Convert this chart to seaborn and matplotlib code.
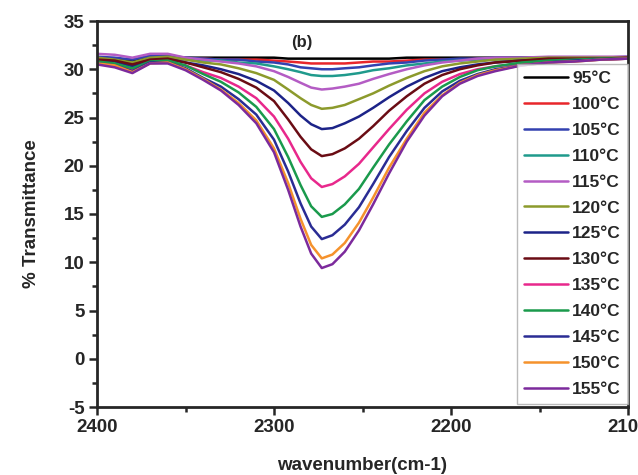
import numpy as np
import pandas as pd
import matplotlib
matplotlib.use("Agg")
import matplotlib.pyplot as plt
import seaborn as sns

wavenumber = [2400, 2390, 2380, 2370, 2360, 2350, 2340, 2330, 2320, 2310, 2300,
              2292, 2285, 2279, 2273, 2267, 2260, 2252, 2244, 2235, 2225, 2215,
              2205, 2195, 2185, 2175, 2160, 2145, 2130, 2115, 2100]

temperatures = ["95", "100", "105", "110", "115", "120", "125", "130",
                "135", "140", "145", "150", "155"]

t95 = [31.2, 31.1, 30.9, 31.3, 31.3,
       31.2, 31.2, 31.2, 31.2, 31.2, 31.2, 31.1, 31.1, 31.1, 31.1, 31.1, 31.1, 31.1,
       31.1, 31.1, 31.2, 31.2, 31.2, 31.2, 31.2, 31.2, 31.2, 31.2, 31.2, 31.2, 31.2]
t100 = [31.0, 30.9, 30.6, 31.1, 31.2,
        31.1, 31.1, 31.0, 31.0, 31.0, 30.9, 30.8, 30.7, 30.6, 30.6, 30.6, 30.6, 30.7,
        30.8, 30.8, 30.9, 31.0, 31.0, 31.0, 31.1, 31.1, 31.1, 31.1, 31.1, 31.2, 31.2]
t105 = [31.3, 31.2, 31.0, 31.4, 31.4,
        31.2, 31.1, 31.0, 31.0, 30.8, 30.7, 30.5, 30.2, 30.1, 30.0, 30.0, 30.1, 30.2,
        30.4, 30.6, 30.7, 30.9, 31.0, 31.1, 31.1, 31.2, 31.2, 31.2, 31.2, 31.2, 31.3]
t110 = [31.1, 30.9, 30.4, 31.0, 31.1,
        31.0, 30.9, 30.9, 30.7, 30.6, 30.3, 30.0, 29.7, 29.4, 29.3, 29.3, 29.4, 29.6,
        29.9, 30.1, 30.4, 30.6, 30.8, 30.9, 31.0, 31.0, 31.1, 31.1, 31.1, 31.1, 31.2]
t115 = [31.6, 31.5, 31.2, 31.6, 31.6,
        31.2, 31.0, 30.8, 30.6, 30.3, 29.8, 29.2, 28.6, 28.1, 27.9, 28.0, 28.2, 28.5,
        29.0, 29.5, 30.0, 30.4, 30.7, 30.9, 31.1, 31.2, 31.2, 31.3, 31.3, 31.3, 31.3]
t120 = [31.2, 31.0, 30.7, 31.2, 31.3,
        31.0, 30.7, 30.5, 30.1, 29.6, 28.9, 27.9, 27.0, 26.3, 25.9, 26.0, 26.3, 26.9,
        27.5, 28.3, 29.1, 29.8, 30.3, 30.6, 30.8, 31.0, 31.1, 31.2, 31.2, 31.2, 31.2]
t125 = [30.9, 30.8, 30.3, 30.9, 31.0,
        30.7, 30.4, 30.0, 29.5, 28.8, 27.8, 26.5, 25.2, 24.3, 23.8, 23.9, 24.4, 25.1,
        26.0, 27.1, 28.2, 29.1, 29.8, 30.2, 30.5, 30.7, 30.9, 31.0, 31.0, 31.1, 31.1]
t130 = [31.0, 30.9, 30.5, 31.0, 31.1,
        30.7, 30.2, 29.7, 29.0, 28.1, 26.7, 24.8, 23.0, 21.7, 21.0, 21.2, 21.8, 22.8,
        24.1, 25.7, 27.2, 28.5, 29.4, 30.0, 30.4, 30.7, 30.9, 31.1, 31.1, 31.1, 31.2]
t135 = [30.7, 30.5, 29.9, 30.7, 30.8,
        30.4, 29.7, 29.1, 28.2, 27.0, 25.1, 22.8, 20.4, 18.7, 17.8, 18.1, 18.9, 20.2,
        21.9, 23.8, 25.8, 27.5, 28.7, 29.5, 30.0, 30.3, 30.6, 30.8, 30.9, 31.0, 31.1]
t140 = [30.8, 30.6, 30.1, 30.8, 30.9,
        30.4, 29.5, 28.7, 27.6, 26.1, 23.8, 20.9, 18.0, 15.8, 14.7, 15.0, 16.0, 17.6,
        19.8, 22.2, 24.6, 26.8, 28.2, 29.2, 29.9, 30.3, 30.7, 30.9, 31.0, 31.1, 31.1]
t145 = [30.6, 30.4, 29.8, 30.7, 30.7,
        30.1, 29.1, 28.2, 26.9, 25.3, 22.7, 19.4, 16.1, 13.7, 12.4, 12.8, 13.9, 15.7,
        18.1, 20.9, 23.6, 26.0, 27.7, 28.8, 29.5, 30.0, 30.4, 30.7, 30.9, 31.0, 31.1]
t150 = [30.6, 30.4, 29.7, 30.6, 30.7,
        30.0, 29.0, 27.9, 26.5, 24.7, 21.8, 18.2, 14.5, 11.8, 10.4, 10.8, 12.0, 14.1,
        16.7, 19.8, 22.8, 25.5, 27.3, 28.6, 29.4, 29.9, 30.4, 30.7, 30.8, 31.0, 31.1]
t155 = [30.5, 30.2, 29.6, 30.6, 30.6,
        29.9, 28.9, 27.8, 26.3, 24.4, 21.4, 17.5, 13.7, 10.9, 9.4, 9.8, 11.1, 13.3,
        16.0, 19.2, 22.5, 25.2, 27.2, 28.5, 29.3, 29.8, 30.4, 30.7, 30.8, 31.0, 31.1]

series = [t95, t100, t105, t110, t115, t120, t125, t130, t135, t140, t145, t150, t155]

colors = ["#000000", "#e8262b", "#3341b0", "#1f9a8c", "#b45cc4", "#8c9a2c",
          "#1c2388", "#6a0c14", "#e8288c", "#1a9a4c", "#2a2c94", "#f5922c", "#7c2a9c"]

sns.set_style("ticks")
plt.rcParams["font.family"] = ["Liberation Sans", "DejaVu Sans"]
plt.rcParams["font.weight"] = "bold"
plt.rcParams["axes.unicode_minus"] = False

labels = [t + "\u00b0C" for t in temperatures]
rows = []
for lab, vals in zip(labels, series):
    for w, v in zip(wavenumber, vals):
        rows.append({"wn": w, "T": v, "label": lab})
df = pd.DataFrame(rows)

fig = plt.figure(figsize=(6.38, 4.75), dpi=100)
ax = fig.add_axes([97/638, 1-407/475, 531/638, 386/475])

sns.lineplot(data=df, x="wn", y="T", hue="label", hue_order=labels,
             palette=colors, estimator=None, linewidth=1.8, ax=ax, legend=True)

ax.set_xlim(2400, 2100)
ax.set_ylim(-5, 35)
ax.set_xticks([2400, 2300, 2200, 2100])
ax.set_xticklabels(["2400", "2300", "2200", "2100"])
ax.set_xticks([2350, 2250, 2150], minor=True)
ax.set_yticks(np.arange(-5, 36, 5))
ax.set_yticks(np.arange(-2.5, 35, 5), minor=True)
ax.tick_params(axis="both", which="major", direction="out", length=6, width=1.8,
               labelsize=13.5, pad=3)
ax.tick_params(axis="both", which="minor", direction="out", length=3.5, width=1.8)
for lab in ax.get_xticklabels() + ax.get_yticklabels():
    lab.set_fontweight("bold")
for s in ax.spines.values():
    s.set_linewidth(2)
    s.set_visible(True)

ax.set_xlabel("wavenumber(cm-1)", fontsize=13.5, fontweight="bold", labelpad=15)
ax.set_ylabel("% Transmittance", fontsize=13.5, fontweight="bold", labelpad=17)
ax.text(0.385, 0.945, "(b)", transform=ax.transAxes, fontsize=12,
        fontweight="bold", ha="center", va="center")

handles, _ = ax.get_legend_handles_labels()
leg = ax.legend(handles, labels, loc="upper right", bbox_to_anchor=(1.0, 0.889),
                borderaxespad=0, frameon=True, fancybox=False,
                handlelength=2.55, handletextpad=0.25, labelspacing=0.62,
                borderpad=0.4, prop={"weight": "bold", "size": 12.5})
leg.get_frame().set_edgecolor("#aaaaaa")
leg.get_frame().set_linewidth(1.0)
for h in leg.get_lines():
    h.set_linewidth(1.8)

fig.savefig("out.png", dpi=100)
